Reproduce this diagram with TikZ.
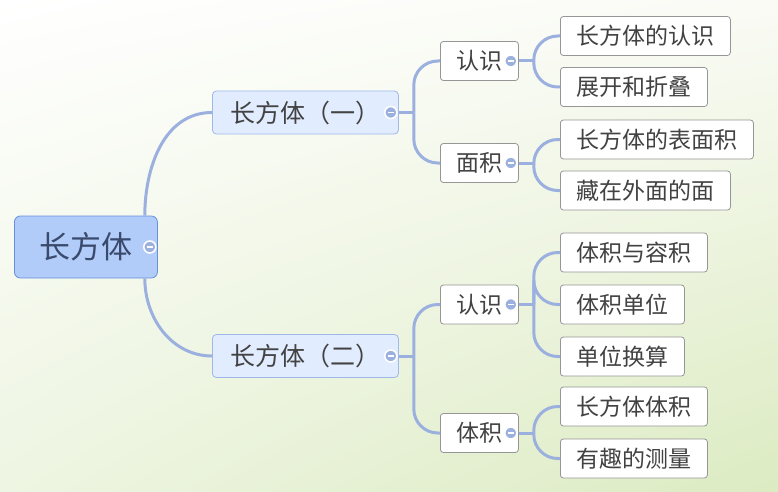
\documentclass[tikz,border=0pt]{standalone}
\usepackage{fontspec}
\setmainfont{Noto Sans CJK SC}
\usetikzlibrary{shadings}
\definecolor{mapline}{RGB}{156,176,224}
\definecolor{rootfill}{RGB}{178,204,250}
\definecolor{rootdraw}{RGB}{104,144,222}
\definecolor{rootink}{RGB}{58,74,108}
\definecolor{partfill}{RGB}{226,236,255}
\definecolor{partdraw}{RGB}{160,184,232}
\definecolor{topicink}{RGB}{66,66,66}
\definecolor{leafdraw}{RGB}{150,150,150}
\definecolor{bgtint}{RGB}{250,251,245}
\definecolor{bglight}{RGB}{238,245,226}
\definecolor{bggreen}{RGB}{220,235,194}

\begin{document}
\begin{tikzpicture}[x=1pt, y=1pt,
      rootbox/.style={rectangle, rounded corners=6pt, draw=rootdraw, fill=rootfill, line width=0.8pt, minimum height=62pt, inner xsep=25pt, anchor=west, text=rootink, font=\fontsize{31}{31}\selectfont},
      partbox/.style={rectangle, rounded corners=4pt, draw=partdraw, fill=partfill, line width=0.8pt, minimum height=43pt, inner xsep=18pt, anchor=west, text=topicink, font=\fontsize{25}{25}\selectfont},
      topicbox/.style={rectangle, rounded corners=3pt, draw=leafdraw, fill=white, line width=0.8pt, minimum height=39pt, inner xsep=16pt, anchor=west, text=topicink, font=\fontsize{23}{23}\selectfont},
      conn/.style={draw=mapline, line width=3pt},
      fold/.style={circle, fill=mapline, draw=white, line width=1.5pt, minimum size=12pt, inner sep=0pt,
        path picture={\draw[white, line width=1.6pt] ([xshift=-3pt]path picture bounding box.center) -- ([xshift=3pt]path picture bounding box.center);}}
    ]
      \useasboundingbox (0,0) rectangle (778,491);
      \shade[upper left=white, upper right=bgtint, lower left=bglight, lower right=bggreen] (0,0) rectangle (778,491);

      % Central topic and main parts
      \node[rootbox] (root) at (14,244) {长方体};
      \node[partbox] (part1) at (212,378.5) {长方体（一）};
      \node[partbox] (part2) at (212,135) {长方体（二）};

      % Second level
      \node[topicbox] (know1) at (440,430) {认识};
      \node[topicbox] (area) at (440,328) {面积};
      \node[topicbox] (know2) at (440,186.5) {认识};
      \node[topicbox] (vol) at (440,58) {体积};

      % Leaves
      \node[topicbox] (leafa) at (560,455) {长方体的认识};
      \node[topicbox] (leafb) at (560,404) {展开和折叠};
      \node[topicbox] (leafc) at (560,351.5) {长方体的表面积};
      \node[topicbox] (leafd) at (560,300.5) {藏在外面的面};
      \node[topicbox] (leafe) at (560,238.5) {体积与容积};
      \node[topicbox] (leaff) at (560,186.5) {体积单位};
      \node[topicbox] (leafg) at (560,134.5) {单位换算};
      \node[topicbox] (leafh) at (560,84.5) {长方体体积};
      \node[topicbox] (leafi) at (560,32.5) {有趣的测量};

      % Branches from the centre
      \draw[conn] ([xshift=-13pt]root.north east) to[out=90,in=180] (part1.west);
      \draw[conn] ([xshift=-13pt]root.south east) to[out=-90,in=180] (part2.west);

      % Branches to second level and leaves
      \foreach \p/\kids in {part1/{know1,area}, part2/{know2,vol}, know1/{leafa,leafb}, area/{leafc,leafd}, know2/{leafe,leaff,leafg}, vol/{leafh,leafi}} {
        \coordinate (j) at ([xshift=15pt]\p.east);
        \draw[conn] (\p.east) -- (j);
        \foreach \k in \kids
          \draw[conn, rounded corners=24pt] (j) |- (\k.west);
      }

      % Collapse markers
      \foreach \n in {root,part1,part2,know1,area,know2,vol}
        \node[fold] at ([xshift=-8pt]\n.east) {};
    \end{tikzpicture}
\end{document}
